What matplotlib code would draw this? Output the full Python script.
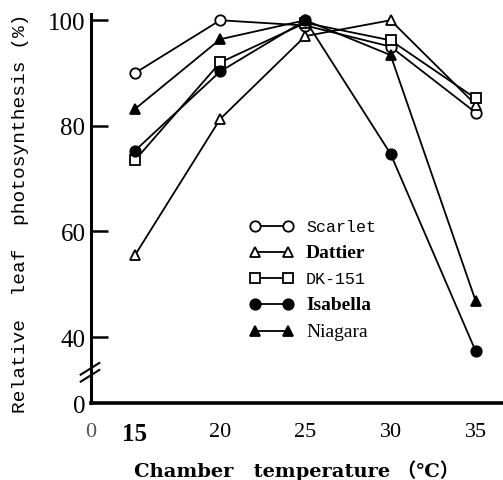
import matplotlib.pyplot as plt

# temperaturas e fotossintese relativa (%)
temps = [15, 20, 25, 30, 35]
scarlet = [90, 100, 99, 95, 82.5]
dattier = [55.5, 81.3, 97, 100, 84]
dk151 = [73.5, 92, 99.5, 96.2, 85.2]
isabella = [75.3, 90.3, 100, 74.7, 37.3]
niagara = [83.2, 96.4, 100, 93.4, 46.8]

y_ticks = [40, 60, 80, 100]
x_ticks = [20, 25, 30, 35]

series = [
    ('Scarlet', scarlet, 'o', 'white'),
    ('Dattier', dattier, '^', 'white'),
    ('DK-151', dk151, 's', 'white'),
    ('Isabella', isabella, 'o', 'black'),
    ('Niagara', niagara, '^', 'black'),
]

serif = ['Liberation Serif', 'DejaVu Serif', 'Noto Sans CJK JP']

fig = plt.figure(figsize=(5.03, 4.81), dpi=100)
ax = fig.add_axes([0.181, 0.160, 0.819, 0.809])

ymin, ymax = 27.5, 101.2
xmin, xmax = 12.42, 36.6

for name, vals, mk, fc in series:
    ax.plot(temps, vals, color='black', linewidth=1.3, marker=mk,
            markersize=7.5, markerfacecolor=fc, markeredgecolor='black',
            markeredgewidth=1.3, label=name, zorder=3)

ax.set_xlim(xmin, xmax)
ax.set_ylim(ymin, ymax)

for s in ['top', 'right']:
    ax.spines[s].set_visible(False)
ax.spines['left'].set_linewidth(2.2)
ax.spines['bottom'].set_linewidth(2.6)

ax.set_yticks([ymin] + y_ticks)
ax.set_yticklabels(['0'] + [str(v) for v in y_ticks], family=serif,
                   fontsize=18)
ax.tick_params(axis='y', direction='in', length=12, width=1.8, pad=4)
ax.yaxis.get_major_ticks()[0].tick1line.set_visible(False)

ax.set_xticks([xmin, 15] + x_ticks)
ax.set_xticklabels(['0', '15'] + [str(v) for v in x_ticks], family=serif,
                   fontsize=16)
ax.tick_params(axis='x', length=0, pad=14)
lbl15 = ax.get_xticklabels()[1]
lbl15.set_fontweight('bold')
lbl15.set_fontsize(18)
ax.get_xticklabels()[0].set_color('#555555')

# marca de quebra do eixo
for dy in [0.0, 0.018]:
    ax.plot([-0.025, 0.02], [0.055 + dy, 0.085 + dy], transform=ax.transAxes,
            color='black', linewidth=1.5, clip_on=False)

ax.set_xlabel('Chamber   temperature （℃）',
              family=['DejaVu Serif', 'Noto Sans CJK JP'], fontsize=14,
              fontweight='bold', labelpad=10)
ax.set_ylabel('Relative  leaf  photosynthesis (%)',
              family=['Liberation Mono', 'DejaVu Sans Mono'], fontsize=14)
ax.yaxis.set_label_coords(-0.15, 0.49)

leg = ax.legend(loc='upper left', bbox_to_anchor=(0.37, 0.49), frameon=False,
                numpoints=2, handlelength=3.0, handletextpad=1.0,
                labelspacing=0.72, borderpad=0)
font_specs = [
    (['Liberation Mono'], 'normal', 12),
    (serif, 'bold', 14),
    (['Liberation Mono'], 'normal', 12),
    (serif, 'bold', 14),
    (serif, 'normal', 14),
]
for txt, (fam, fw, fs) in zip(leg.get_texts(), font_specs):
    txt.set_family(fam)
    txt.set_fontweight(fw)
    txt.set_fontsize(fs)

plt.savefig('out.png', dpi=100)
plt.close()
